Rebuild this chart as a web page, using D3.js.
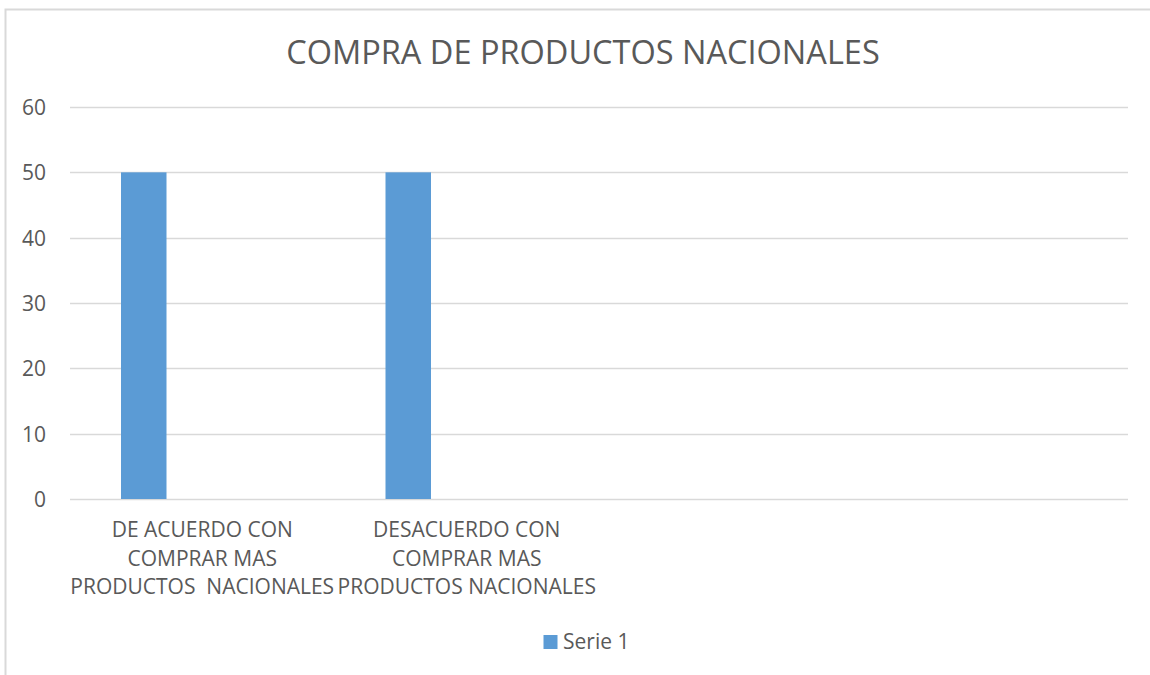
<!DOCTYPE html>
<html>
<head>
<meta charset="utf-8">
<script src="https://cdn.jsdelivr.net/npm/d3@7"></script>
<style>
  html, body { margin: 0; padding: 0; background: #ffffff; }
  svg { display: block; }
  text { font-family: "Open Sans", "Noto Sans", sans-serif; fill: #595959; }
</style>
</head>
<body>
<svg id="chart" width="1150" height="675"></svg>
<script>
// ---- data ----
const chartTitle = "COMPRA DE PRODUCTOS NACIONALES";
const categories = ["c1", "c2", "c3", "c4"];
const categoryLabels = [
  ["DE ACUERDO CON", "COMPRAR MAS", "PRODUCTOS  NACIONALES"],
  ["DESACUERDO CON", "COMPRAR MAS", "PRODUCTOS NACIONALES"],
  [],
  []
];
const seriesName = "Serie 1";
const seriesValues = [50, 50, null, null];
const yTicks = [0, 10, 20, 30, 40, 50, 60];

// ---- layout ----
const W = 1150, H = 675;
const plot = { left: 70, right: 1128, top: 107, bottom: 499 };
const barColor = "#5b9bd5";
const gridColor = "#d9d9d9";

const svg = d3.select("#chart");

// chart border (cropped on right/bottom)
svg.append("path")
  .attr("d", `M5.5,${H + 2} L5.5,9.5 L${W + 2},9.5`)
  .attr("fill", "none")
  .attr("stroke", gridColor)
  .attr("stroke-width", 2);

const x = d3.scaleBand()
  .domain(categories)
  .range([plot.left, plot.right])
  .paddingInner(0)
  .paddingOuter(0);

const y = d3.scaleLinear()
  .domain([0, 60])
  .range([plot.bottom, plot.top]);

// gridlines
svg.append("g")
  .selectAll("line")
  .data(yTicks)
  .join("line")
  .attr("x1", plot.left)
  .attr("x2", plot.right)
  .attr("y1", d => Math.round(y(d)) + 0.5)
  .attr("y2", d => Math.round(y(d)) + 0.5)
  .attr("stroke", gridColor)
  .attr("stroke-width", 1.3);

// y axis labels
const yAxis = d3.axisLeft(y).tickValues(yTicks).tickSize(0).tickPadding(0);
const yg = svg.append("g")
  .attr("transform", `translate(46,0)`)
  .call(yAxis);
yg.select(".domain").remove();
yg.selectAll("text")
  .attr("font-size", 21)
  .attr("font-family", "Open Sans")
  .attr("fill", "#595959")
  .attr("dy", "0.35em");

// bars: positioned within each category band (first slot of cluster)
const barOffsetFrac = 51 / 264.5;
const barWidthFrac = 45.5 / 264.5;
svg.append("g")
  .selectAll("rect")
  .data(categories.map((c, i) => ({ c, v: seriesValues[i] })).filter(d => d.v != null))
  .join("rect")
  .attr("x", d => x(d.c) + x.bandwidth() * barOffsetFrac)
  .attr("width", x.bandwidth() * barWidthFrac)
  .attr("y", d => y(d.v))
  .attr("height", d => y(0) - y(d.v))
  .attr("fill", barColor);

// category labels
const cg = svg.append("g");
categories.forEach((c, i) => {
  const t = cg.append("text")
    .attr("x", x(c) + x.bandwidth() / 2)
    .attr("y", 537)
    .attr("text-anchor", "middle")
    .attr("font-size", 21)
    .style("white-space", "pre");
  categoryLabels[i].forEach((line, j) => {
    t.append("tspan")
      .attr("x", x(c) + x.bandwidth() / 2)
      .attr("dy", j === 0 ? 0 : 28.6)
      .text(line);
  });
});

// title
svg.append("text")
  .attr("x", 583)
  .attr("y", 63.5)
  .attr("text-anchor", "middle")
  .attr("font-size", 32.5)
  .text(chartTitle);

// legend
const lg = svg.append("g");
lg.append("rect")
  .attr("x", 543.5).attr("y", 635)
  .attr("width", 14).attr("height", 14)
  .attr("fill", barColor);
lg.append("text")
  .attr("x", 563).attr("y", 649)
  .attr("font-size", 21)
  .text(seriesName);
</script>
</body>
</html>
